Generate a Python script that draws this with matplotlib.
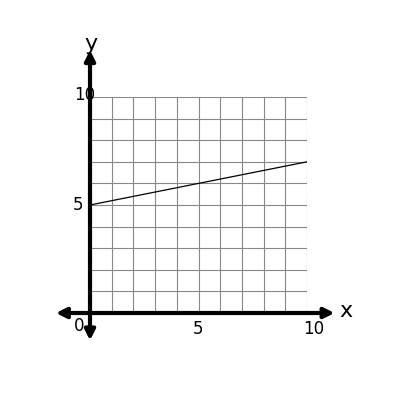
import matplotlib
matplotlib.use("Agg")
import matplotlib.pyplot as plt
import numpy as np

line_x = [0, 10]
line_y = [5, 7]
ticks = [0, 5, 10]

fig = plt.figure(figsize=(4, 4), dpi=100)
ax = fig.add_axes([0.225, 0.2175, 0.5425, 0.54])
ax.set_xlim(0, 10); ax.set_ylim(0, 10)
for i in range(11):
    ax.axvline(i, color='#888888', lw=0.8)
    ax.axhline(i, color='#888888', lw=0.8)
ax.plot(line_x, line_y, color='black', lw=0.9)
for s in ax.spines.values():
    s.set_visible(False)
ax.set_xticks([]); ax.set_yticks([])
ap = dict(arrowstyle='<|-|>', color='black', lw=3, mutation_scale=15)
ax.annotate('', xy=(11.4, 0), xytext=(-1.7, 0), arrowprops=ap, annotation_clip=False)
ax.annotate('', xy=(0, 12.3), xytext=(0, -1.4), arrowprops=ap, annotation_clip=False)
ax.text(11.5, 0.1, 'x', fontsize=16, ha='left', va='center')
ax.text(0.05, 12.0, 'y', fontsize=16, ha='center', va='bottom')
ax.text(-0.5, -0.6, '0', fontsize=12, ha='center', va='center')
ax.text(5, -0.75, '5', fontsize=12, ha='center', va='center')
ax.text(10.3, -0.75, '10', fontsize=12, ha='center', va='center')
ax.text(-0.55, 5, '5', fontsize=12, ha='center', va='center')
ax.text(-0.25, 10.1, '10', fontsize=12, ha='center', va='center')
fig.savefig('out.png', dpi=100)
